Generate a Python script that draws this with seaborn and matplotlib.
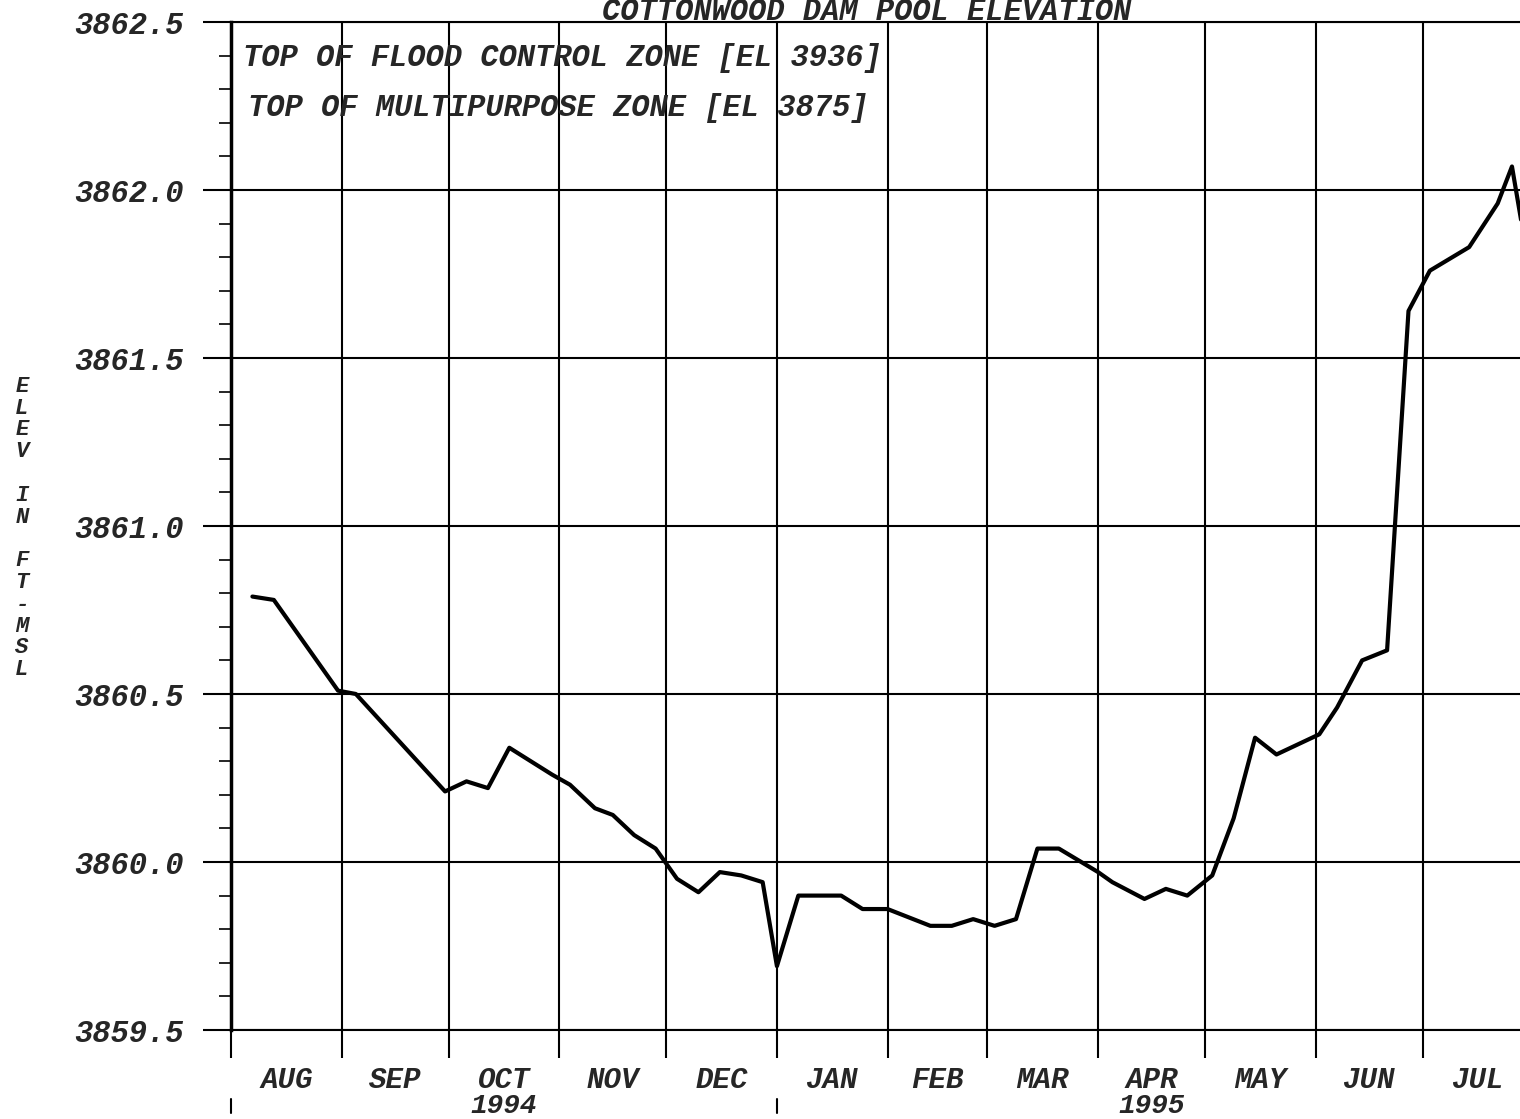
import pandas as pd
import matplotlib
matplotlib.use('Agg')
import matplotlib.pyplot as plt
import matplotlib.transforms as mtransforms
from matplotlib.ticker import MultipleLocator, FormatStrFormatter
import seaborn as sns

# Plain white style, then the typewriter-like font of the scanned chart
sns.set_style("white")
plt.rcParams['font.family'] = ['Liberation Mono', 'DejaVu Sans Mono']
plt.rcParams['font.weight'] = 'bold'
plt.rcParams['font.style'] = 'italic'

# --- Data ---
obs_dates = ['1994-08-07', '1994-08-13', '1994-08-31', '1994-09-05', '1994-09-30',
             '1994-10-06', '1994-10-12', '1994-10-18', '1994-10-24', '1994-10-30',
             '1994-11-04', '1994-11-11', '1994-11-16', '1994-11-22', '1994-11-28',
             '1994-12-04', '1994-12-10', '1994-12-16', '1994-12-22', '1994-12-28',
             '1995-01-01', '1995-01-07', '1995-01-19', '1995-01-25', '1995-02-01',
             '1995-02-13', '1995-02-19', '1995-02-25', '1995-03-03', '1995-03-09',
             '1995-03-15', '1995-03-21', '1995-04-01', '1995-04-05', '1995-04-14',
             '1995-04-20', '1995-04-26', '1995-05-03', '1995-05-09', '1995-05-15',
             '1995-05-21', '1995-06-02', '1995-06-07', '1995-06-14', '1995-06-21',
             '1995-06-27', '1995-07-03', '1995-07-14', '1995-07-22', '1995-07-26',
             '1995-07-30']
pool_elev = [3860.79, 3860.78, 3860.51, 3860.50, 3860.21,
             3860.24, 3860.22, 3860.34, 3860.30, 3860.26,
             3860.23, 3860.16, 3860.14, 3860.08, 3860.04,
             3859.95, 3859.91, 3859.97, 3859.96, 3859.94,
             3859.69, 3859.90, 3859.90, 3859.86, 3859.86,
             3859.81, 3859.81, 3859.83, 3859.81, 3859.83,
             3860.04, 3860.04, 3859.97, 3859.94, 3859.89,
             3859.92, 3859.90, 3859.96, 3860.13, 3860.37,
             3860.32, 3860.38, 3860.46, 3860.60, 3860.63,
             3861.64, 3861.76, 3861.83, 3861.96, 3862.07,
             3861.82]

month_starts = ['1994-08-01', '1994-09-01', '1994-10-01', '1994-11-01', '1994-12-01',
                '1995-01-01', '1995-02-01', '1995-03-01', '1995-04-01', '1995-05-01',
                '1995-06-01', '1995-07-01', '1995-08-01']
month_labels = ['AUG', 'SEP', 'OCT', 'NOV', 'DEC', 'JAN',
                'FEB', 'MAR', 'APR', 'MAY', 'JUN', 'JUL']
year_breaks = ['1994-08-01', '1995-01-01']
year_labels = ['1994', '1995']
year_months = ['OCT', 'APR']   # year label sits under this month

zone_labels = ['TOP OF FLOOD CONTROL ZONE [EL 3936]',
               'TOP OF MULTIPURPOSE ZONE [EL 3875]']
chart_title = 'COTTONWOOD DAM POOL ELEVATION'
y_title = 'ELEV IN FT-MSL'

df = pd.DataFrame({'date': pd.to_datetime(obs_dates), 'elev': pool_elev})
starts = pd.to_datetime(month_starts)
centers = [starts[i] + (starts[i + 1] - starts[i]) / 2 for i in range(len(month_labels))]

# --- Figure ---
W, H = 1520, 1119
fig = plt.figure(figsize=(W / 100, H / 100), dpi=100)
ax = fig.add_axes([231 / W, 1 - 1030 / H, 1289 / W, 1008 / H])

sns.lineplot(data=df, x='date', y='elev', color='black', linewidth=3.0, ax=ax, sort=False)

ax.set_ylim(3859.5, 3862.5)
ax.set_xlim(starts[0], pd.Timestamp('1995-07-28 06:00'))

# y axis: majors every 0.5 with grid, minors every 0.1
ax.yaxis.set_major_locator(MultipleLocator(0.5))
ax.yaxis.set_minor_locator(MultipleLocator(0.1))
ax.yaxis.set_major_formatter(FormatStrFormatter('%.1f'))
ax.tick_params(axis='y', which='both', left=True, right=False)
ax.tick_params(axis='y', which='major', direction='out', length=20, width=1.5,
               color='black', pad=14, labelsize=22)
ax.tick_params(axis='y', which='minor', direction='out', length=9, width=1.2, color='black')

# x axis: month boundaries as majors, month names on mid-month minors
ax.set_xticks(starts[:-1])
ax.set_xticklabels([''] * len(month_labels))
ax.set_xticks(centers, minor=True)
ax.set_xticklabels(month_labels, minor=True)
ax.tick_params(axis='x', which='both', bottom=True, top=False)
ax.tick_params(axis='x', which='major', direction='out', length=20, width=1.5, color='black')
ax.tick_params(axis='x', which='minor', length=0, pad=26, labelsize=21)

ax.grid(True, which='major', color='black', linewidth=1.5)
ax.set_axisbelow(True)

for side in ['top', 'bottom']:
    ax.spines[side].set_linewidth(1.5)
    ax.spines[side].set_color('black')
ax.spines['left'].set_linewidth(2.5)
ax.spines['left'].set_color('black')
ax.spines['right'].set_visible(False)
ax.set_xlabel('')
ax.set_ylabel('')

# year markers and labels below the month names
trans = mtransforms.blended_transform_factory(ax.transData, ax.transAxes)
for d in year_breaks:
    ax.axvline(pd.Timestamp(d), ymin=-0.082, ymax=-0.068, clip_on=False,
               color='black', linewidth=1.5)
for lab, m in zip(year_labels, year_months):
    ax.text(centers[month_labels.index(m)], -0.0755, lab, transform=trans,
            ha='center', va='center', fontsize=20)

# zone notes inside the plot
ax.text(0.0093, 0.964, zone_labels[0], transform=ax.transAxes,
        ha='left', va='center', fontsize=22)
ax.text(0.013, 0.915, zone_labels[1], transform=ax.transAxes,
        ha='left', va='center', fontsize=22)

# title just above the frame, near the top edge as on the scan
fig.text(867 / W, 1 - 20 / H, chart_title, ha='center', va='baseline', fontsize=22)

# stacked vertical axis title
fig.text(22 / W, 1 - 528 / H, '\n'.join(list(y_title)), ha='center', va='center',
         fontsize=16, linespacing=1.05)

fig.savefig('out.png', dpi=100)
